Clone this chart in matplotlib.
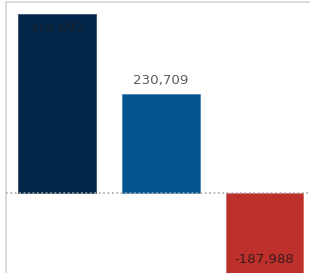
import matplotlib.pyplot as plt

categories = ['A', 'B', 'C']
values = [418697, 230709, -187988]
labels = ['418,697', '230,709', '-187,988']
colors = ['#022649', '#03558f', '#be302b']
edges = ['#33506d', '#4a86b8', '#d86a66']

fig = plt.figure(figsize=(3.10, 2.73), dpi=100)
ax = fig.add_axes([6 / 310, 0, 304 / 310, 271 / 273])

x = list(range(len(categories)))
bars = ax.bar(x, values, width=0.75, color=colors, edgecolor=edges, linewidth=0.6, zorder=2)

ax.axhline(0, color='#a8a8a8', linestyle=':', linewidth=1.2, zorder=3)

# label placement: inside top for first, above for second, inside bottom for negative
fs = 9.6
ax.annotate(labels[0], (x[0], values[0]), xytext=(0, -15), textcoords='offset pixels',
            ha='center', va='center', fontsize=fs, color='#17202e', zorder=4)
ax.annotate(labels[1], (x[1], values[1]), xytext=(0, 14), textcoords='offset pixels',
            ha='center', va='center', fontsize=fs, color='#5c5c5c', zorder=4)
ax.annotate(labels[2], (x[2], values[2]), xytext=(0, 13.5), textcoords='offset pixels',
            ha='center', va='center', fontsize=fs, color='#3a1c1c', zorder=4)

ax.set_xlim(-0.4916, 2.4386)
ax.set_ylim(-187120, 446749)
ax.set_xticks([])
ax.set_yticks([])
for s in ['right', 'bottom']:
    ax.spines[s].set_visible(False)
for s in ['left', 'top']:
    ax.spines[s].set_color('#d4d4d4')
    ax.spines[s].set_linewidth(1.2)

fig.savefig('out.png', dpi=100)
